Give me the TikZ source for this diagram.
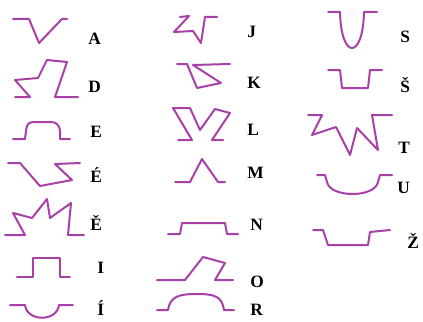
\documentclass[tikz,border=0pt]{standalone}
\usepackage{fontspec}
\setmainfont{Liberation Serif}
\definecolor{glyph}{RGB}{168,64,168}
\begin{document}
\begin{tikzpicture}[x=0.75pt,y=-0.75pt,
  sign/.style={draw=glyph,line width=1.5pt,line join=round,line cap=round},
  lab/.style={anchor=base west,inner sep=0pt,font=\bfseries\fontsize{13}{13}\selectfont}]
\useasboundingbox (0,0) rectangle (423,321);
% column 1
\draw[sign] (13,19) -- (29,19) -- (39,43) -- (62,19) -- (67,19);
\node[lab] (lA) at (88,45) {A};
\draw[sign] (15,97) -- (30,97) -- (15,80) -- (38,78) -- (47,60) -- (67,62) -- (55,97) -- (78,97);
\node[lab] (lD) at (88,92) {D};
\draw[sign] (13,139) -- (25,139) -- (26,131) .. controls (27,122) and (30,122) .. (36,122) -- (50,122) .. controls (56,122) and (59,124) .. (60,131) -- (60,139) -- (70,139);
\node[lab] (lE) at (90,137) {E};
\draw[sign] (8,163) -- (20,163) -- (40,186) -- (72,180) -- (55,164) -- (80,163);
\node[lab] (lE1) at (90,182) {É};
\draw[sign] (5,235) -- (25,235) -- (13,213) -- (32,218) -- (47,199) -- (50,218) -- (71,203) -- (68,235) -- (84,235);
\node[lab] (lE2) at (90,230) {Ě};
\draw[sign] (17,277) -- (33,277) -- (33,258) -- (60,258) -- (60,277) -- (70,277);
\node[lab] (lI) at (97,273) {I};
\draw[sign] (10,305) -- (25,305) .. controls (27,322) and (57,322) .. (59,305) -- (73,305);
\node[lab] (lI1) at (97,315) {Í};
% column 2
\draw[sign] (180,17) -- (189,16) -- (174,32) -- (193,31) -- (201,43) -- (205,17) -- (217,17);
\node[lab] (lJ) at (247,37) {J};
\draw[sign] (177,64) -- (187,64) -- (197,88) -- (221,83) -- (193,65) -- (230,64);
\node[lab] (lK) at (247,88) {K};
\draw[sign] (178,140) -- (192,140) -- (173,108) -- (190,108) -- (200,130) -- (215,109) -- (230,113) -- (212,140) -- (223,140);
\node[lab] (lL) at (247,135) {L};
\draw[sign] (175,182) -- (190,182) -- (202,159) -- (218,182) -- (225,182);
\node[lab] (lM) at (247,178) {M};
\draw[sign] (168,234) -- (180,234) -- (182,223) -- (225,223) -- (227,234) -- (238,234);
\node[lab] (lN) at (250,230) {N};
\draw[sign] (157,280) -- (185,280) -- (203,257) -- (225,263) -- (215,280) -- (233,280);
\node[lab] (lO) at (250,287) {O};
\draw[sign] (157,310) -- (168,310) .. controls (170,296) and (180,294) .. (197,294) .. controls (214,294) and (222,296) .. (224,310) -- (234,310);
\node[lab] (lR) at (250,315) {R};
% column 3
\draw[sign] (328,12) -- (340,12) .. controls (341,60) and (363,60) .. (364,12) -- (377,12);
\node[lab] (lS) at (400,43) {S};
\draw[sign] (328,70) -- (340,70) -- (342,88) -- (368,88) -- (370,70) -- (382,70);
\node[lab] (lS1) at (400,92) {Š};
\draw[sign] (308,115) -- (322,115) -- (312,135) -- (336,127) -- (350,155) -- (357,128) -- (378,150) -- (372,115) -- (392,115);
\node[lab] (lT) at (398,153) {T};
\draw[sign] (317,175) -- (325,175) -- (327,182) .. controls (330,198) and (375,198) .. (378,182) -- (380,175) -- (392,175);
\node[lab] (lU) at (397,193) {U};
\draw[sign] (313,230) -- (323,230) -- (328,245) -- (368,245) -- (370,232) -- (390,230);
\node[lab] (lZ) at (407,248) {Ž};
\end{tikzpicture}
\end{document}
